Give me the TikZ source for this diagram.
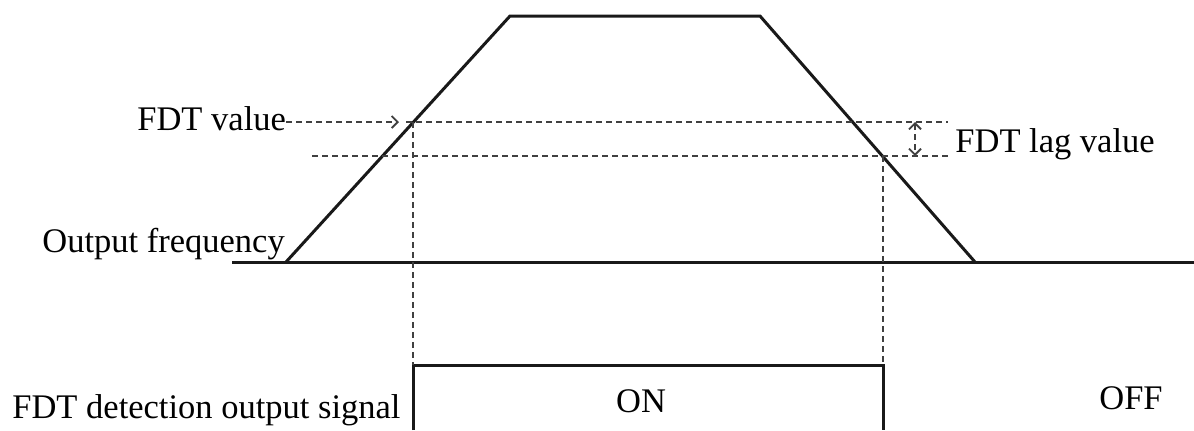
\documentclass[tikz,border=0pt]{standalone}
\usepackage{fontspec}
\setmainfont{Liberation Serif}
\usetikzlibrary{arrows.meta}
\begin{document}
\begin{tikzpicture}[x=0.5pt,y=-0.5pt,
  solidline/.style={line width=1.5pt, draw=black!90, line join=miter},
  guide/.style={line width=0.9pt, draw=black!75, dash pattern=on 3pt off 2pt},
  lbl/.style={inner sep=0pt, font=\fontsize{17.25}{20}\selectfont},
  opentip/.style={-{Straight Barb[length=3pt,width=6pt]}},
  bothtips/.style={{Straight Barb[length=3pt,width=6pt]}-{Straight Barb[length=3pt,width=6pt]}}]
\useasboundingbox (0,0) rectangle (1194,430);
% key points
\coordinate (b0) at (232,262);
\coordinate (b1) at (1194,262);
\coordinate (r0) at (286,262);
\coordinate (r1) at (510,16);
\coordinate (r2) at (760,16);
\coordinate (r3) at (975,262);
\coordinate (u0) at (406,122);
\coordinate (u1) at (948,122);
\coordinate (l0) at (312,156);
\coordinate (l1) at (948,156);
\coordinate (va) at (413,122);
\coordinate (vb) at (883,156);
\coordinate (s0) at (413,430);
\coordinate (s1) at (413,365);
\coordinate (s2) at (883,365);
\coordinate (s3) at (883,430);
\coordinate (d0) at (915,122);
\coordinate (d1) at (915,156);
\coordinate (at) at (399,122);
% labels
\node[lbl, anchor=base west] (fv) at (137,130) {FDT value};
\node[lbl, anchor=base west] (flv) at (955,152) {FDT lag value};
\node[lbl, anchor=base west] (of) at (42,252) {Output frequency};
\node[lbl, anchor=base west] (fd) at (12,418) {FDT detection output signal};
\node[lbl, anchor=base] (on) at (641,412) {ON};
\node[lbl, anchor=base] (off) at (1131,409) {OFF};
% solid lines
\draw[solidline] (b0) -- (b1);
\draw[solidline] (r0) -- (r1) -- (r2) -- (r3);
\draw[solidline] (s0) -- (s1) -- (s2) -- (s3);
% guides
\draw[guide, opentip] (fv.east |- at) -- (at);
\draw[guide] (u0) -- (u1);
\draw[guide] (l0) -- (l1);
\draw[guide] (va) -- (s1);
\draw[guide] (vb) -- (s2);
\draw[guide, bothtips] (d0) -- (d1);
\end{tikzpicture}
\end{document}
